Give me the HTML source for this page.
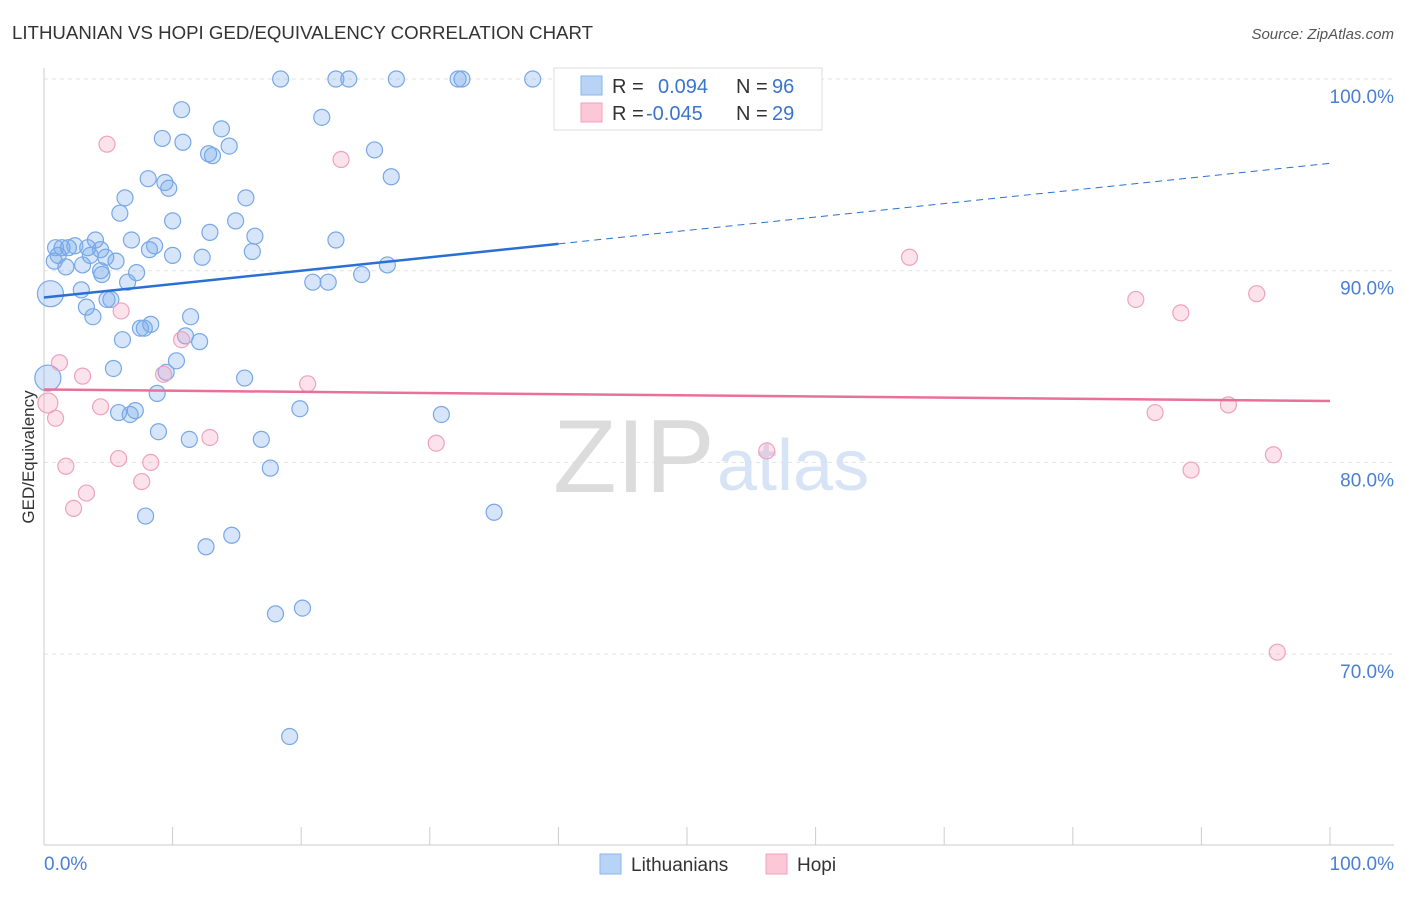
<!DOCTYPE html>
<html><head><meta charset="utf-8"><style>
body{margin:0;background:#fff;font-family:"Liberation Sans",sans-serif}
svg text{font-family:"Liberation Sans",sans-serif}
</style></head><body>
<svg id="chart" width="1406" height="892">
<text x="12" y="39" font-size="18" fill="#333" textLength="581" lengthAdjust="spacingAndGlyphs">LITHUANIAN VS HOPI GED/EQUIVALENCY CORRELATION CHART</text>
<text x="1394" y="39" font-size="15" fill="#555" font-style="italic" text-anchor="end">Source: ZipAtlas.com</text>
<g id="grid"></g>
<g>
<text x="553" y="492" font-family="Liberation Serif,serif" font-size="104" fill="#dcdcdc">ZIP</text>
<text x="717" y="490" font-size="72" fill="#d6e4f5">atlas</text>
</g>
<line x1="44" y1="68" x2="44" y2="845" stroke="#ccc"/>
<line x1="44" y1="845" x2="1394" y2="845" stroke="#ccc"/>
<g id="xticks"></g>
<g id="ylabels"></g>
<text x="44" y="870" font-size="19" fill="#4a7fd4">0.0%</text>
<text x="1394" y="870" font-size="19" fill="#4a7fd4" text-anchor="end">100.0%</text>
<text transform="translate(34,457) rotate(-90)" font-size="17" fill="#333" text-anchor="middle">GED/Equivalency</text>
<g id="pts"></g>
<g id="lines"></g>
<g>
<rect x="554" y="68" width="268" height="62" fill="#fff" stroke="#ddd"/>
<rect x="581" y="76" width="21" height="19" fill="#b8d3f5" stroke="#8ab4ea"/>
<rect x="581" y="103" width="21" height="19" fill="#fcc8d8" stroke="#f0a0ba"/>
<text x="612" y="93" font-size="20" fill="#333">R =</text>
<text x="658" y="93" font-size="20" fill="#3a74cf">0.094</text>
<text x="736" y="93" font-size="20" fill="#333">N =</text>
<text x="772" y="93" font-size="20" fill="#3a74cf">96</text>
<text x="612" y="120" font-size="20" fill="#333">R =</text>
<text x="646" y="120" font-size="20" fill="#3a74cf">-0.045</text>
<text x="736" y="120" font-size="20" fill="#333">N =</text>
<text x="772" y="120" font-size="20" fill="#3a74cf">29</text>
</g>
<g>
<rect x="600" y="854" width="21" height="20" fill="#b8d3f5" stroke="#8ab4ea"/>
<text x="631" y="871" font-size="19" fill="#333">Lithuanians</text>
<rect x="766" y="854" width="21" height="20" fill="#fcc8d8" stroke="#f0a0ba"/>
<text x="797" y="871" font-size="19" fill="#333">Hopi</text>
</g>
</svg>
<script>
const blueX=[18.4,22.7,23.7,27.4,32.2,32.5,38.0,10.7,21.6,9.2,10.8,13.8,14.4,12.8,13.1,25.7,8.1,9.4,9.7,27.0,6.3,15.7,5.9,10.0,14.9,12.9,16.4,6.8,8.6,8.2,22.7,4.0,0.9,1.4,1.9,2.4,3.4,4.4,1.1,10.0,12.3,16.2,0.8,1.7,3.0,4.8,5.6,3.6,7.2,4.5,4.4,6.5,20.9,22.1,24.7,26.7,2.9,5.2,4.9,3.3,3.8,11.4,7.5,7.8,8.3,11.0,12.1,6.1,10.3,9.5,5.4,15.6,8.8,5.8,6.7,7.1,19.9,30.9,8.9,11.3,16.9,17.6,35.0,7.9,12.6,14.6,18.0,20.1,19.1,0.5,0.3];
const blueY=[100,100,100,100,100,100,100,98.4,98.0,96.9,96.7,97.4,96.5,96.1,96.0,96.3,94.8,94.6,94.3,94.9,93.8,93.8,93.0,92.6,92.6,92.0,91.8,91.6,91.3,91.1,91.6,91.6,91.2,91.2,91.2,91.3,91.2,91.1,90.8,90.8,90.7,91.0,90.5,90.2,90.3,90.7,90.5,90.8,89.9,89.8,90.0,89.4,89.4,89.4,89.8,90.3,89.0,88.5,88.5,88.1,87.6,87.6,87.0,87.0,87.2,86.6,86.3,86.4,85.3,84.7,84.9,84.4,83.6,82.6,82.5,82.7,82.8,82.5,81.6,81.2,81.2,79.7,77.4,77.2,75.6,76.2,72.1,72.4,65.7,88.8,84.4];
const pinkX=[4.9,23.1,67.3,84.9,88.4,94.3,6.0,10.7,1.2,3.0,9.3,20.5,0.3,0.9,4.4,12.9,30.5,5.8,8.3,1.7,7.6,3.3,2.3,56.2,86.4,92.1,89.2,95.6,95.9];
const pinkY=[96.6,95.8,90.7,88.5,87.8,88.8,87.9,86.4,85.2,84.5,84.6,84.1,83.1,82.3,82.9,81.3,81.0,80.2,80.0,79.8,79.0,78.4,77.6,80.6,82.6,83.0,79.6,80.4,70.1];
const blueTrend=[88.6,95.6];
const pinkTrend=[83.8,83.2];
const yTicks=[100,90,80,70];
const yTickLabels=["100.0%","90.0%","80.0%","70.0%"];
const xTicks=[0,10,20,30,40,50,60,70,80,90,100];

const NS="http://www.w3.org/2000/svg";
const sx=v=>44+v*12.86;
const sy=v=>79+(100-v)*19.17;
function mk(tag,attrs,parent){const e=document.createElementNS(NS,tag);for(const k in attrs)e.setAttribute(k,attrs[k]);document.getElementById(parent).appendChild(e);return e;}
yTicks.forEach((t,i)=>{
  const l=mk('line',{x1:44,x2:1394,y1:sy(t),y2:sy(t),stroke:'#e2e2e2','stroke-dasharray':'4,4'},'grid');
  
  
  const tx=mk('text',{x:1394,y:sy(t)+24,'font-size':19,fill:'#4a7fd4','text-anchor':'end'},'ylabels');
  tx.textContent=yTickLabels[i];
  
  
});
xTicks.forEach(t=>{
  const l=mk('line',{x1:sx(t),x2:sx(t),y1:827,y2:845,stroke:'#ccc'},'xticks');
  
  
});
blueX.forEach((x,i)=>{
  const big=(i>=blueX.length-2);
  const c=mk('circle',{cx:sx(x),cy:sy(blueY[i]),r:big?13:8,fill:'rgba(120,170,235,0.3)',stroke:'#78a8e6','stroke-width':1.2},'pts');
  
  
});
pinkX.forEach((x,i)=>{
  const c=mk('circle',{cx:sx(x),cy:sy(pinkY[i]),r:i==12?10:8,fill:'rgba(245,160,190,0.3)',stroke:'#eea2bd','stroke-width':1.2},'pts');
  
  
});
const bAt=x=>blueTrend[0]+(blueTrend[1]-blueTrend[0])*x/100;
let l1=mk('line',{x1:sx(0),y1:sy(bAt(0)),x2:sx(40),y2:sy(bAt(40)),stroke:'#2a6fd6','stroke-width':2.5},'lines');


let l2=mk('line',{x1:sx(40),y1:sy(bAt(40)),x2:sx(100),y2:sy(bAt(100)),stroke:'#2a6fd6','stroke-width':1,'stroke-dasharray':'7,5'},'lines');


let l3=mk('line',{x1:sx(0),y1:sy(pinkTrend[0]),x2:sx(100),y2:sy(pinkTrend[1]),stroke:'#e8709a','stroke-width':2.5},'lines');


</script>
</body></html>
